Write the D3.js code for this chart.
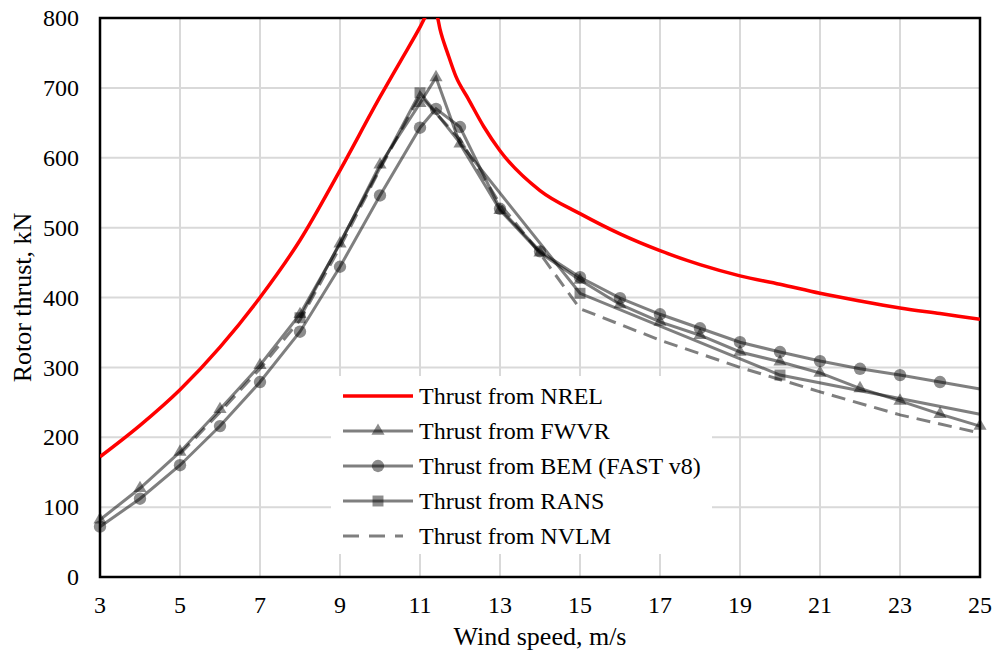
<!DOCTYPE html>
<html>
<head>
<meta charset="utf-8">
<script src="https://cdn.jsdelivr.net/npm/d3@7"></script>
<style>
  body { margin: 0; background: #fff; }
</style>
</head>
<body>
<svg width="1000" height="653"></svg>
<script>
// data
const nrelWind   = [3,4,5,6,7,8,9,10,10.5,11,11.15,11.3,11.43,11.5,11.7,11.9,12.2,12.6,13,14,15,16,17,18,19,20,21,22,23,24,25];
const nrelThrust = [172,217,268,329,400,482,582,687,737,787,803,809,802,784,748,716,685,644,610,553,520,491,467,447,431,419,406,395,385,377,369];

const fwvrWind   = [3,4,5,6,7,8,9,10,11,11.4,12,13,14,15,16,17,18,19,20,21,22,23,24,25];
const fwvrThrust = [82,127,179,240,303,376,477,590,678,715,620,525,464,425,390,365,346,322,308,292,270,252,233,216];

const bemWind    = [3,4,5,6,7,8,9,10,11,11.4,12,13,14,15,16,17,18,19,20,21,22,23,24,25];
const bemThrust  = [72,112,160,216,279,351,444,546,643,670,644,527,466,429,399,376,356,336,322,309,298,289,279,269];

const ransWind   = [8,11,15,20,25];
const ransThrust = [371,693,406,289,233];

const nvlmWind   = [5,6,7,8,9,10,11,12,13,14,15,17,19,21,23,25];
const nvlmThrust = [176,236,298,368,472,584,689,626,534,463,384,339,300,265,232,206];

const xTicks = [3,5,7,9,11,13,15,17,19,21,23,25];
const yTicks = [0,100,200,300,400,500,600,700,800];

const legendLabels = ["Thrust from NREL","Thrust from FWVR","Thrust from BEM (FAST v8)","Thrust from RANS","Thrust from NVLM"];

//setting
const FONT = "'Liberation Serif', 'Times New Roman', 'DejaVu Serif', serif";
const svg = d3.select("svg").style("font-family", FONT);
const pLeft = 100, pRight = 980, pTop = 18, pBottom = 577;

const x = d3.scaleLinear().domain([3, 25]).range([pLeft, pRight]);
const y = d3.scaleLinear().domain([0, 800]).range([pBottom, pTop]);

const grey = "rgba(0,0,0,0.5)";
const markFill = "rgba(0,0,0,0.45)";

// grid
svg.append("g")
  .selectAll("line")
  .data(yTicks.slice(1))
  .join("line")
  .attr("x1", pLeft).attr("x2", pRight)
  .attr("y1", d => y(d)).attr("y2", d => y(d))
  .attr("stroke", "#d9d9d9").attr("stroke-width", 2);

svg.append("g")
  .selectAll("line")
  .data(xTicks.slice(1))
  .join("line")
  .attr("x1", d => x(d)).attr("x2", d => x(d))
  .attr("y1", pTop).attr("y2", pBottom)
  .attr("stroke", "#d9d9d9").attr("stroke-width", 2);

// tick labels
svg.append("g")
  .selectAll("text")
  .data(yTicks)
  .join("text")
  .text(d => d)
  .attr("x", 79)
  .attr("y", d => y(d))
  .attr("dy", "0.34em")
  .attr("text-anchor", "end")
  .style("font-family", FONT)
  .style("font-size", "24px");

svg.append("g")
  .selectAll("text")
  .data(xTicks)
  .join("text")
  .text(d => d)
  .attr("x", d => x(d))
  .attr("y", 613)
  .attr("text-anchor", "middle")
  .style("font-family", FONT)
  .style("font-size", "24px");

// axis titles
svg.append("text")
  .text("Wind speed, m/s")
  .attr("x", (pLeft + pRight) / 2)
  .attr("y", 645)
  .attr("text-anchor", "middle")
  .style("font-family", FONT)
  .style("font-size", "26px");

svg.append("text")
  .text("Rotor thrust, kN")
  .attr("transform", `translate(22, ${(pTop + pBottom) / 2}) rotate(-90)`)
  .attr("text-anchor", "middle")
  .attr("dominant-baseline", "central")
  .style("font-family", FONT)
  .style("font-size", "26px");

// legend box (drawn before series, covers grid)
const lg = svg.append("g");
lg.append("rect")
  .attr("x", 331).attr("y", 376)
  .attr("width", 381).attr("height", 178)
  .attr("fill", "#fff");

// frame
svg.append("rect")
  .attr("x", pLeft).attr("y", pTop)
  .attr("width", pRight - pLeft).attr("height", pBottom - pTop)
  .attr("fill", "none").attr("stroke", "#000").attr("stroke-width", 2.5);

svg.append("clipPath").attr("id", "plotclip")
  .append("rect")
  .attr("x", pLeft).attr("y", pTop)
  .attr("width", pRight - pLeft).attr("height", pBottom - pTop);

const line = d3.line().x(d => x(d[0])).y(d => y(d[1]));
const zip = (a, b) => a.map((v, i) => [v, b[i]]);

const tri = d3.symbol().type(d3.symbolTriangle).size(75);
const circ = d3.symbol().type(d3.symbolCircle).size(120);
const sq = d3.symbol().type(d3.symbolSquare).size(120);

// grey series
svg.append("path")
  .datum(zip(nvlmWind, nvlmThrust))
  .attr("d", line)
  .attr("fill", "none").attr("stroke", grey).attr("stroke-width", 3)
  .attr("stroke-dasharray", "14,8");

const series = [
  {w: fwvrWind, t: fwvrThrust, sym: tri, skipLast: false},
  {w: bemWind, t: bemThrust, sym: circ, skipLast: true},
  {w: ransWind, t: ransThrust, sym: sq, skipLast: true}
];

series.forEach(s => {
  const pts = zip(s.w, s.t);
  svg.append("path")
    .datum(pts)
    .attr("d", line)
    .attr("fill", "none").attr("stroke", grey).attr("stroke-width", 3);
  svg.append("g")
    .selectAll("path")
    .data(s.skipLast ? pts.slice(0, -1) : pts)
    .join("path")
    .attr("d", s.sym)
    .attr("transform", d => `translate(${x(d[0])},${y(d[1])})`)
    .attr("fill", markFill);
});

// red NREL curve
svg.append("path")
  .datum(zip(nrelWind, nrelThrust))
  .attr("d", d3.line().x(d => x(d[0])).y(d => y(d[1])).curve(d3.curveMonotoneX))
  .attr("clip-path", "url(#plotclip)")
  .attr("fill", "none").attr("stroke", "#ff0000").attr("stroke-width", 3.5);

// legend entries
const rows = legendLabels.map((l, i) => ({label: l, i: i, yy: 396 + i * 35}));
const lx1 = 343, lx2 = 413;
rows.forEach(r => {
  const g = lg.append("g");
  const ln = g.append("line")
    .attr("x1", lx1).attr("x2", lx2)
    .attr("y1", r.yy).attr("y2", r.yy)
    .attr("stroke-width", 3);
  if (r.i === 0) ln.attr("stroke", "#ff0000").attr("stroke-width", 3.5);
  else ln.attr("stroke", grey);
  if (r.i === 4) ln.attr("x2", lx2 - 10).attr("stroke-dasharray", "16,10");
  const sy = [null, tri, circ, sq, null][r.i];
  if (sy) {
    g.append("path")
      .attr("d", sy)
      .attr("transform", `translate(${(lx1 + lx2) / 2},${r.yy})`)
      .attr("fill", markFill);
  }
  g.append("text")
    .text(r.label)
    .attr("x", 419)
    .attr("y", r.yy)
    .attr("dy", "0.34em")
    .style("font-family", FONT)
    .style("font-size", "24px");
});
</script>
</body>
</html>
